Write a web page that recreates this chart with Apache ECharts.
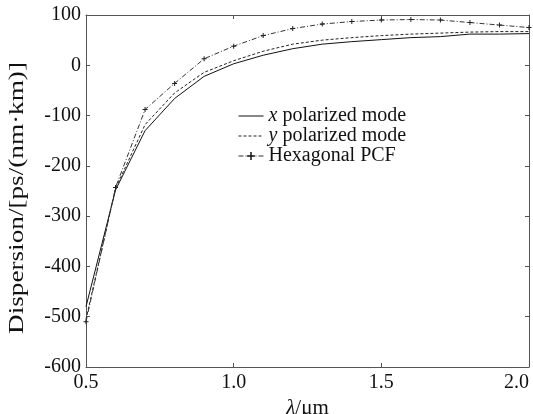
<!DOCTYPE html>
<html>
<head>
<meta charset="utf-8">
<script src="https://cdn.jsdelivr.net/npm/echarts@6/dist/echarts.min.js"></script>
<style>
  html, body { margin: 0; padding: 0; background: #fff; }
  #chart { width: 533px; height: 414px; }
</style>
</head>
<body>
<div id="chart"></div>
<script>
// wavelength, um
const wavelengths = [0.5, 0.6, 0.7, 0.8, 0.9, 1.0, 1.1, 1.2, 1.3, 1.4, 1.5, 1.6, 1.7, 1.8, 1.9, 2.0]
// dispersion, ps/(nm km)
const xMode = [-480, -248, -130, -66, -22, 3, 20, 33, 42, 47, 51, 55, 57, 62, 62, 63]
const yMode = [-505, -245, -118, -55, -14, 9, 28, 42, 50, 55, 59, 62, 64, 66, 67, 67]
const hexPcf = [-510, -243, -88, -36, 13, 38, 59, 73, 82, 87, 90, 91, 90, 85, 80, 75]

const seriesNames = ['x polarized mode', 'y polarized mode', 'Hexagonal PCF']
const yTitle = 'Dispersion/[ps/(nm·km)]'

const FONT = 'Liberation Serif'
const INK = '#111'
const frame = { show: true, onZero: false, lineStyle: { color: '#555', width: 1 } }
const tickIn = { show: true, inside: true, length: 4, lineStyle: { color: '#555' } }

const pair = (ys) => wavelengths.map((x, i) => [x, ys[i]])

const chart = echarts.init(document.getElementById('chart'), null, { renderer: 'canvas' })
chart.setOption({
  animation: false,
  textStyle: { fontFamily: FONT },
  grid: { left: 86, right: 4, top: 15, bottom: 47, outerBoundsMode: 'none', containLabel: false },
  // y title is drawn as a graphic: the original lettering is stretched along its length
  graphic: [
    {
      type: 'text',
      x: 18, y: 198,
      rotation: Math.PI / 2,
      scaleX: 1.36,
      style: {
        text: yTitle, fontFamily: FONT, fontSize: 20, fill: INK,
        align: 'center', verticalAlign: 'middle',
      },
    },
  ],
  legend: {
    orient: 'vertical',
    left: 233,
    top: 101,
    itemGap: 0,
    itemWidth: 25,
    itemHeight: 10,
    lineStyle: { width: 1 },
    data: [
      { name: seriesNames[0], itemStyle: { opacity: 0 } },
      { name: seriesNames[1], itemStyle: { opacity: 0 } },
      { name: seriesNames[2] },
    ],
    textStyle: {
      fontFamily: FONT, fontSize: 20, color: INK, lineHeight: 19,
      rich: {
        i: { fontFamily: FONT, fontSize: 20, fontStyle: 'italic', color: INK, lineHeight: 19 },
        n: { fontFamily: FONT, fontSize: 20, color: INK, lineHeight: 19 },
      },
    },
    formatter(name) {
      if (name.startsWith('x ') || name.startsWith('y ')) {
        return '{i|' + name[0] + '}{n|' + name.slice(1) + '}'
      }
      return '{n|' + name + '}'
    },
  },
  xAxis: [
    {
      type: 'value', min: 0.5, max: 2.0, interval: 0.5,
      axisLine: frame, axisTick: tickIn, splitLine: { show: false },
      axisLabel: {
        fontFamily: FONT, fontSize: 20, color: INK, margin: 6,
        formatter: (v) => v.toFixed(1), alignMaxLabel: 'right',
      },
      name: '{i|λ}{n|/μm}', nameLocation: 'middle', nameGap: 27,
      nameTextStyle: {
        rich: {
          i: { fontFamily: FONT, fontSize: 21, fontStyle: 'italic', color: INK },
          n: { fontFamily: FONT, fontSize: 21, color: INK },
        },
      },
    },
    {
      type: 'value', position: 'top', min: 0.5, max: 2.0, interval: 0.5,
      axisLine: frame, axisTick: tickIn, axisLabel: { show: false }, splitLine: { show: false },
    },
  ],
  yAxis: [
    {
      type: 'value', min: -600, max: 100, interval: 100,
      axisLine: frame, axisTick: tickIn, splitLine: { show: false },
      axisLabel: { fontFamily: FONT, fontSize: 20, color: INK, margin: 5 },
    },
    {
      type: 'value', position: 'right', min: -600, max: 100, interval: 100,
      axisLine: frame, axisTick: tickIn, axisLabel: { show: false }, splitLine: { show: false },
    },
  ],
  series: [
    {
      name: seriesNames[0], type: 'line', data: pair(xMode),
      symbol: 'none', lineStyle: { color: INK, width: 1 }, itemStyle: { color: INK },
    },
    {
      name: seriesNames[1], type: 'line', data: pair(yMode),
      symbol: 'none', lineStyle: { color: '#222', width: 1, type: [3, 2] }, itemStyle: { color: '#222' },
    },
    {
      name: seriesNames[2], type: 'line', data: pair(hexPcf),
      symbol: 'path://M4,0H6V4H10V6H6V10H4V6H0V4H4Z', symbolSize: 5, showSymbol: true,
      lineStyle: { color: '#333', width: 1, type: [5, 2, 1, 2] }, itemStyle: { color: '#222' },
    },
  ],
})
</script>
</body>
</html>
